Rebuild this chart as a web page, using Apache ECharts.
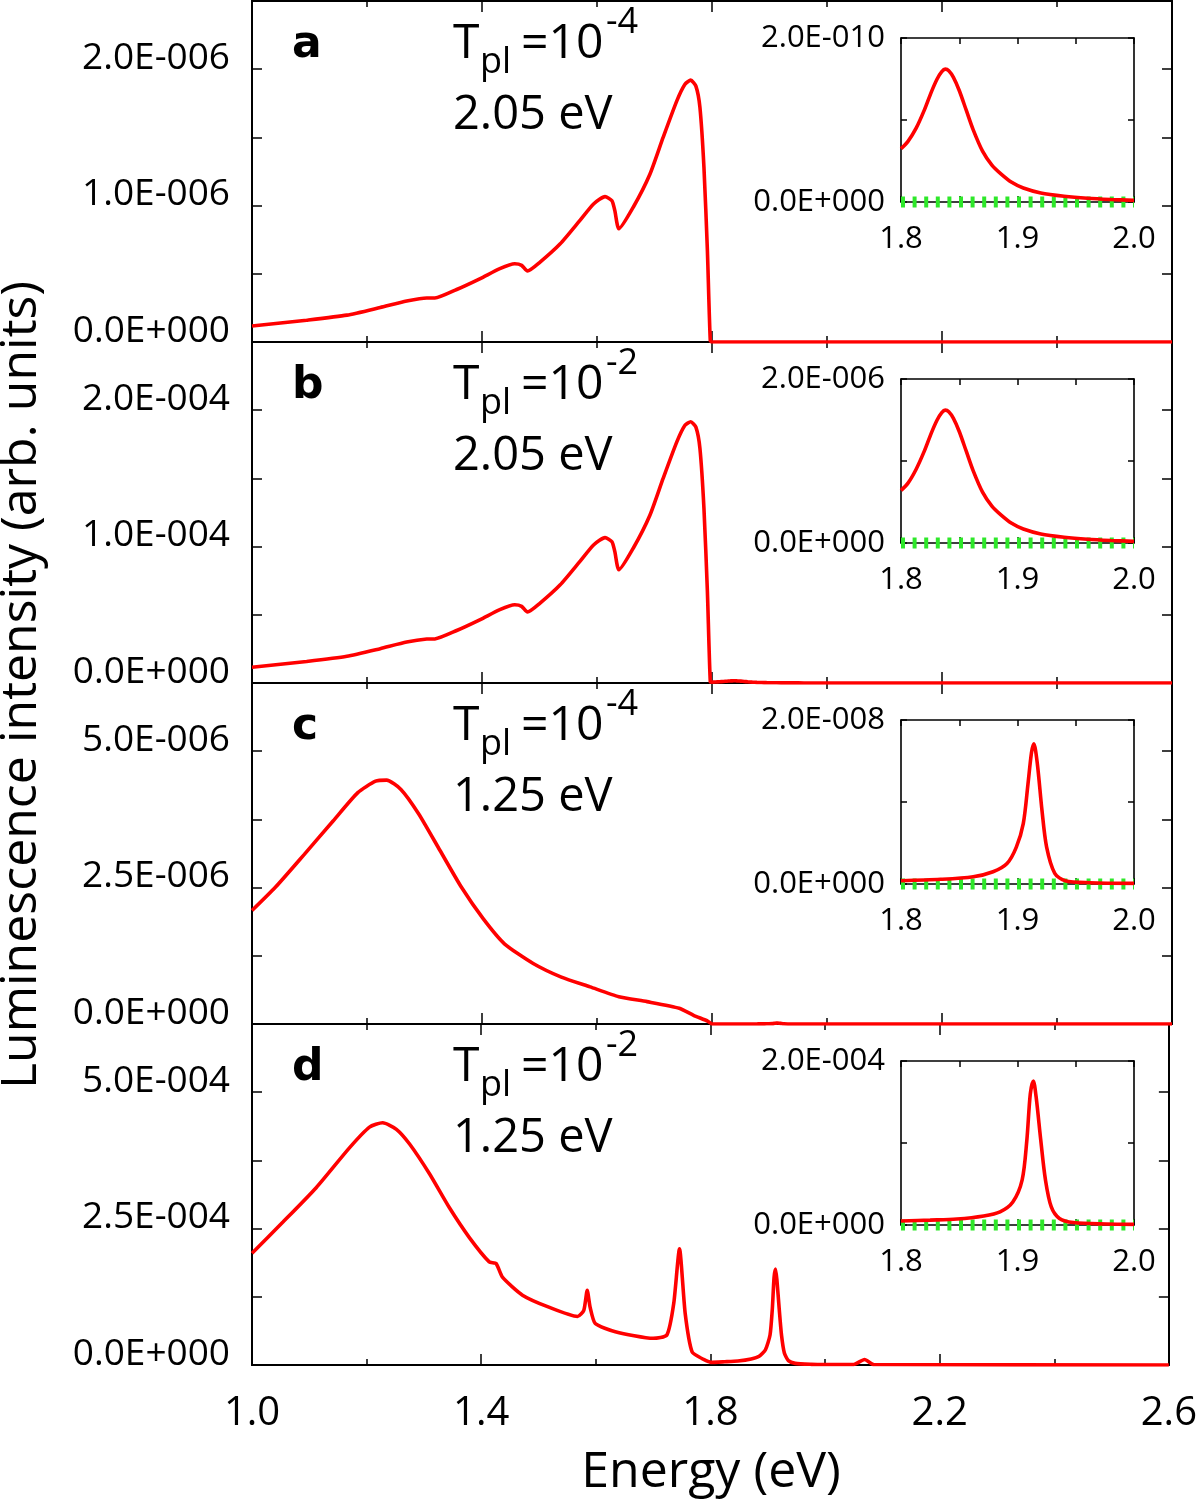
<!DOCTYPE html>
<html><head><meta charset="utf-8">
<script src="https://cdn.jsdelivr.net/npm/echarts@6/dist/echarts.min.js"></script>
<style>html,body{margin:0;padding:0;background:#fff}#chart{width:1200px;height:1505px}</style>
</head><body><div id="chart"></div>
<script>
// ---------------- data ----------------
const xMajorTicks = [1.0, 1.4, 1.8, 2.2, 2.6];
const xMinorTicks = [1.0, 1.2, 1.4, 1.6, 1.8, 2.0, 2.2, 2.4, 2.6];
const insetXLabels = [1.8, 1.9, 2.0];
const insetXTicks = [1.8, 1.85, 1.9, 1.95, 2.0];

const panelLetters = ['a', 'b', 'c', 'd'];
const tplExponents = ['-4', '-2', '-4', '-2'];
const excitationLabels = ['2.05 eV', '2.05 eV', '1.25 eV', '1.25 eV'];
const yMaxMain = [2.5e-6, 2.5e-4, 6.25e-6, 6.25e-4];
const yStepMain = [0.5e-6, 0.5e-4, 1.25e-6, 1.25e-4];
const yMaxInset = [2e-10, 2e-6, 2e-8, 2e-4];

// panel a (main, up to the cut-off at 1.8 eV)
const energyA = [1.0, 1.095, 1.165, 1.223, 1.269, 1.304, 1.318, 1.356, 1.397, 1.431, 1.457, 1.469, 1.479, 1.501, 1.536, 1.570, 1.594, 1.614, 1.626, 1.631, 1.638, 1.663, 1.692, 1.715, 1.739, 1.753, 1.763, 1.772, 1.779, 1.786, 1.792, 1.797];
const intensityA = [0.117e-6, 0.160e-6, 0.197e-6, 0.253e-6, 0.300e-6, 0.323e-6, 0.323e-6, 0.385e-6, 0.465e-6, 0.538e-6, 0.574e-6, 0.562e-6, 0.520e-6, 0.586e-6, 0.720e-6, 0.890e-6, 1.012e-6, 1.066e-6, 1.036e-6, 0.963e-6, 0.830e-6, 0.988e-6, 1.230e-6, 1.500e-6, 1.770e-6, 1.890e-6, 1.920e-6, 1.876e-6, 1.720e-6, 1.280e-6, 0.670e-6, 0.010e-6];
// panel b
const energyB = [1.0, 1.095, 1.165, 1.223, 1.269, 1.304, 1.318, 1.356, 1.397, 1.431, 1.457, 1.469, 1.479, 1.501, 1.536, 1.570, 1.594, 1.614, 1.626, 1.631, 1.638, 1.663, 1.692, 1.715, 1.739, 1.753, 1.763, 1.772, 1.779, 1.786, 1.792, 1.797];
const intensityB = [0.115e-4, 0.158e-4, 0.196e-4, 0.252e-4, 0.300e-4, 0.322e-4, 0.323e-4, 0.385e-4, 0.465e-4, 0.538e-4, 0.574e-4, 0.562e-4, 0.520e-4, 0.586e-4, 0.720e-4, 0.890e-4, 1.012e-4, 1.066e-4, 1.036e-4, 0.963e-4, 0.830e-4, 0.988e-4, 1.230e-4, 1.500e-4, 1.770e-4, 1.890e-4, 1.915e-4, 1.876e-4, 1.720e-4, 1.280e-4, 0.670e-4, 0.010e-4];
// panel c
const energyC = [1.0, 1.041, 1.091, 1.141, 1.184, 1.215, 1.234, 1.259, 1.290, 1.327, 1.364, 1.402, 1.439, 1.489, 1.538, 1.588, 1.638, 1.687, 1.743, 1.768, 1.793];
const intensityC = [2.08e-6, 2.51e-6, 3.11e-6, 3.72e-6, 4.24e-6, 4.45e-6, 4.47e-6, 4.30e-6, 3.85e-6, 3.18e-6, 2.51e-6, 1.93e-6, 1.47e-6, 1.11e-6, 0.86e-6, 0.68e-6, 0.50e-6, 0.41e-6, 0.29e-6, 0.16e-6, 0.05e-6];
// panel d
const energyD = [1.0, 1.054, 1.112, 1.170, 1.205, 1.228, 1.252, 1.275, 1.310, 1.344, 1.379, 1.414, 1.426, 1.437, 1.472, 1.518, 1.568, 1.579, 1.585, 1.590, 1.599, 1.634, 1.700, 1.724, 1.736, 1.746, 1.756, 1.768, 1.785, 1.797];
const intensityD = [2.05e-4, 2.62e-4, 3.25e-4, 3.98e-4, 4.36e-4, 4.44e-4, 4.32e-4, 4.05e-4, 3.50e-4, 2.89e-4, 2.34e-4, 1.89e-4, 1.86e-4, 1.61e-4, 1.28e-4, 1.06e-4, 0.89e-4, 1.00e-4, 1.37e-4, 1.06e-4, 0.76e-4, 0.61e-4, 0.49e-4, 0.55e-4, 1.13e-4, 2.13e-4, 0.94e-4, 0.24e-4, 0.12e-4, 0.06e-4];
const energyDTail = [2.050, 2.069, 2.085, 2.6];
const intensityDTail = [0.01e-4, 0.10e-4, 0.01e-4, 0];

// insets (1.8 - 2.0 eV)
const insetEnergyA = [1.800, 1.806, 1.813, 1.820, 1.826, 1.831, 1.835, 1.838, 1.841, 1.845, 1.850, 1.856, 1.862, 1.870, 1.878, 1.886, 1.895, 1.905, 1.920, 1.940, 1.960, 1.980, 2.000];
const insetIntensityA = [0.65e-10, 0.74e-10, 0.90e-10, 1.12e-10, 1.34e-10, 1.50e-10, 1.59e-10, 1.62e-10, 1.60e-10, 1.52e-10, 1.36e-10, 1.12e-10, 0.88e-10, 0.62e-10, 0.45e-10, 0.34e-10, 0.24e-10, 0.17e-10, 0.11e-10, 0.07e-10, 0.045e-10, 0.03e-10, 0.02e-10];
const insetEnergyB = [1.800, 1.806, 1.813, 1.820, 1.826, 1.831, 1.835, 1.838, 1.841, 1.845, 1.850, 1.856, 1.862, 1.870, 1.878, 1.886, 1.895, 1.905, 1.920, 1.940, 1.960, 1.980, 2.000];
const insetIntensityB = [0.64e-6, 0.73e-6, 0.90e-6, 1.12e-6, 1.34e-6, 1.50e-6, 1.59e-6, 1.62e-6, 1.60e-6, 1.52e-6, 1.36e-6, 1.12e-6, 0.88e-6, 0.62e-6, 0.45e-6, 0.34e-6, 0.24e-6, 0.17e-6, 0.11e-6, 0.07e-6, 0.045e-6, 0.03e-6, 0.02e-6];
const insetEnergyC = [1.800, 1.834, 1.862, 1.879, 1.891, 1.899, 1.905, 1.909, 1.912, 1.914, 1.917, 1.921, 1.925, 1.932, 1.941, 1.962, 2.000];
const insetIntensityC = [0.04e-8, 0.057e-8, 0.089e-8, 0.15e-8, 0.25e-8, 0.45e-8, 0.74e-8, 1.22e-8, 1.60e-8, 1.71e-8, 1.47e-8, 0.90e-8, 0.45e-8, 0.13e-8, 0.04e-8, 0.016e-8, 0.008e-8];
const insetEnergyD = [1.800, 1.825, 1.848, 1.871, 1.885, 1.896, 1.904, 1.908, 1.911, 1.9136, 1.916, 1.920, 1.924, 1.929, 1.936, 1.948, 1.976, 2.000];
const insetIntensityD = [0.049e-4, 0.06e-4, 0.073e-4, 0.11e-4, 0.16e-4, 0.28e-4, 0.55e-4, 1.03e-4, 1.60e-4, 1.757e-4, 1.56e-4, 1.03e-4, 0.55e-4, 0.22e-4, 0.08e-4, 0.03e-4, 0.012e-4, 0.008e-4];
const greenEnergy = [1.8, 2.0];
const greenIntensity = [0, 0];

// ---------------- build ----------------
function zip(xs, ys) { return xs.map((x, i) => [x, ys[i]]); }
function fmtE(v) {
  if (Math.abs(v) < 1e-30) return '0.0E+000';
  const e = Math.floor(Math.log10(Math.abs(v)) + 1e-9);
  const m = v / Math.pow(10, e);
  return m.toFixed(1) + 'E' + (e < 0 ? '-' : '+') + String(Math.abs(e)).padStart(3, '0');
}

const mainData = [
  zip(energyA, intensityA).concat(zip(insetEnergyA, insetIntensityA), [[2.6, 0]]),
  zip(energyB, intensityB).concat(zip(insetEnergyB, insetIntensityB), [[2.6, 0]]),
  zip(energyC, intensityC).concat(zip(insetEnergyC, insetIntensityC), [[2.6, 0]]),
  zip(energyD, intensityD).concat(zip(insetEnergyD, insetIntensityD), zip(energyDTail, intensityDTail))
];
const insetData = [
  zip(insetEnergyA, insetIntensityA),
  zip(insetEnergyB, insetIntensityB),
  zip(insetEnergyC, insetIntensityC),
  zip(insetEnergyD, insetIntensityD)
];

const FONT = '"Open Sans", sans-serif';
const RED = '#ff0000';
const GREEN = '#2ee82a';
const panelTops = [1, 342, 683, 1024];
const PH = 341;
const grids = [], xAxes = [], yAxes = [], series = [], graphics = [];

const blackLine = w => ({ show: true, onZero: false, lineStyle: { color: '#000', width: w } });

for (let i = 0; i < 4; i++) {
  const P = panelTops[i];
  const gMain = grids.length;
  grids.push({ left: 252, top: P, width: 920, height: PH });
  const gIn = grids.length;
  grids.push({ left: 901, top: P + 37, width: 233, height: 164 });

  // main x axes
  const xb = xAxes.length;
  ['bottom', 'top'].forEach(pos => {
    xAxes.push({
      type: 'value', gridIndex: gMain, position: pos, min: 1.0, max: 2.6,
      axisLine: blackLine(2),
      axisTick: { inside: true, length: 6, customValues: xMinorTicks, lineStyle: { color: '#000', width: 1.5 } },
      axisLabel: { show: false }, splitLine: { show: false }
    });
    xAxes.push({
      type: 'value', gridIndex: gMain, position: pos, min: 1.0, max: 2.6,
      axisLine: blackLine(2),
      axisTick: { inside: true, length: 11, customValues: xMajorTicks, lineStyle: { color: '#000', width: 1.5 } },
      axisLabel: {
        show: (pos === 'bottom' && i === 3), customValues: xMajorTicks,
        formatter: v => v.toFixed(1), fontSize: 40, fontFamily: FONT, color: '#000', margin: 29
      },
      splitLine: { show: false }
    });
  });
  const yl = yAxes.length;
  ['left', 'right'].forEach(pos => {
    yAxes.push({
      type: 'value', gridIndex: gMain, position: pos, min: 0, max: yMaxMain[i], interval: yStepMain[i],
      axisLine: blackLine(2),
      axisTick: { inside: true, length: 10, lineStyle: { color: '#000', width: 1.5 } },
      axisLabel: {
        show: pos === 'left', formatter: (v, idx) => (idx % 2 === 0 ? fmtE(v) : ''),
        fontSize: 37, fontFamily: FONT, color: '#000', margin: 22,
        verticalAlign: 'bottom', lineHeight: 22
      },
      splitLine: { show: false }
    });
  });

  // inset axes
  const xi = xAxes.length;
  ['bottom', 'top'].forEach(pos => {
    xAxes.push({
      type: 'value', gridIndex: gIn, position: pos, min: 1.8, max: 2.0,
      axisLine: blackLine(1.6),
      axisTick: { inside: true, length: 6, customValues: insetXTicks, lineStyle: { color: '#000', width: 1.5 } },
      axisLabel: {
        show: pos === 'bottom', customValues: insetXLabels, formatter: v => v.toFixed(1),
        fontSize: 31, fontFamily: FONT, color: '#000', margin: 22
      },
      splitLine: { show: false }
    });
  });
  const yi = yAxes.length;
  ['left', 'right'].forEach(pos => {
    yAxes.push({
      type: 'value', gridIndex: gIn, position: pos, min: 0, max: yMaxInset[i], interval: yMaxInset[i] / 2,
      axisLine: blackLine(1.6),
      axisTick: { inside: true, length: 6, lineStyle: { color: '#000', width: 1.5 } },
      axisLabel: {
        show: pos === 'left', formatter: (v, idx) => (idx % 2 === 0 ? fmtE(v) : ''),
        fontSize: 31, fontFamily: FONT, color: '#000', margin: 16
      },
      splitLine: { show: false }
    });
  });

  series.push({
    type: 'line', xAxisIndex: xb, yAxisIndex: yl, data: mainData[i], symbol: 'none',
    smooth: 0.2, lineStyle: { color: RED, width: 3.6 }, z: 3, animation: false
  });
  series.push({
    type: 'line', xAxisIndex: xi, yAxisIndex: yi, data: zip(greenEnergy, greenIntensity), symbol: 'none',
    clip: false, lineStyle: { color: GREEN, width: 11, type: [4, 7.6], cap: 'butt' }, z: 3, animation: false
  });
  series.push({
    type: 'line', xAxisIndex: xi, yAxisIndex: yi, data: insetData[i], symbol: 'none',
    smooth: 0.3, lineStyle: { color: RED, width: 3.6 }, z: 4, animation: false
  });

  // annotations
  graphics.push({ type: 'text', x: 292, y: P + 45, style: { text: panelLetters[i], font: 'bold 44px "DejaVu Sans", sans-serif', fill: '#000', align: 'left', verticalAlign: 'middle' } });
  graphics.push({ type: 'text', x: 453, y: P + 43, style: { text: 'T', font: '48px ' + FONT, fill: '#000', align: 'left', verticalAlign: 'middle' } });
  graphics.push({ type: 'text', x: 480, y: P + 62, style: { text: 'pl', font: '36px ' + FONT, fill: '#000', align: 'left', verticalAlign: 'middle' } });
  graphics.push({ type: 'text', x: 521, y: P + 43, style: { text: '=10', font: '48px ' + FONT, fill: '#000', align: 'left', verticalAlign: 'middle' } });
  graphics.push({ type: 'text', x: 606, y: P + 22, style: { text: tplExponents[i], font: '36px ' + FONT, fill: '#000', align: 'left', verticalAlign: 'middle' } });
  graphics.push({ type: 'text', x: 453, y: P + 115, style: { text: excitationLabels[i], font: '47px ' + FONT, fill: '#000', align: 'left', verticalAlign: 'middle' } });
}

graphics.push({ type: 'text', x: 22, y: 685, rotation: Math.PI / 2, style: { text: 'Luminescence intensity (arb. units)', font: '50px ' + FONT, fill: '#000', align: 'center', verticalAlign: 'middle' } });
graphics.push({ type: 'text', x: 711, y: 1473, style: { text: 'Energy (eV)', font: '50px ' + FONT, fill: '#000', align: 'center', verticalAlign: 'middle' } });

const chart = echarts.init(document.getElementById('chart'), null, { renderer: 'canvas' });
chart.setOption({
  backgroundColor: '#fff',
  animation: false,
  grid: grids,
  xAxis: xAxes,
  yAxis: yAxes,
  series: series,
  graphic: graphics
});
</script>
</body></html>
